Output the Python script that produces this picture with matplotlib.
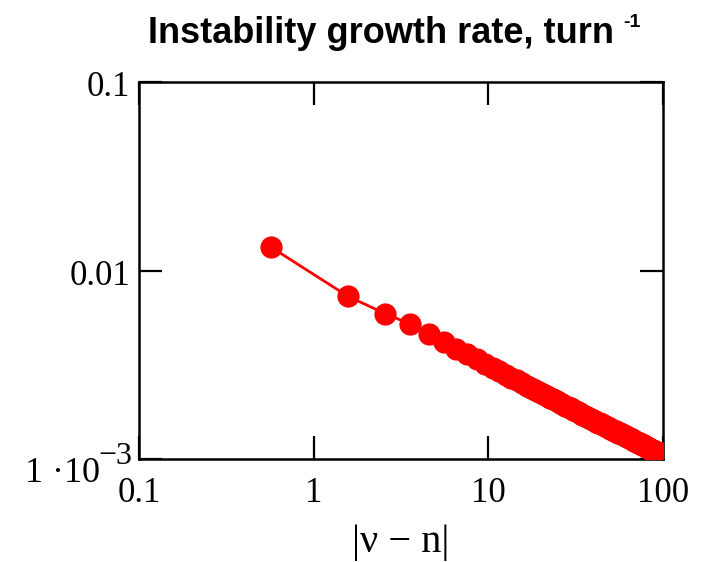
import numpy as np
import matplotlib
matplotlib.use("Agg")
import matplotlib.pyplot as plt
from matplotlib.ticker import FixedLocator, NullLocator, FixedFormatter, NullFormatter
from matplotlib.transforms import ScaledTranslation

# |nu - n| for each harmonic
detune = [0.57, 1.57, 2.57, 3.57, 4.57, 5.57, 6.57, 7.57, 8.57, 9.57,
          10.57, 11.57, 12.57, 13.57, 14.57, 15.57, 16.57, 17.57, 18.57, 19.57,
          20.57, 21.57, 22.57, 23.57, 24.57, 25.57, 26.57, 27.57, 28.57, 29.57,
          30.57, 31.57, 32.57, 33.57, 34.57, 35.57, 36.57, 37.57, 38.57, 39.57,
          40.57, 41.57, 42.57, 43.57, 44.57, 45.57, 46.57, 47.57, 48.57, 49.57,
          50.57, 51.57, 52.57, 53.57, 54.57, 55.57, 56.57, 57.57, 58.57, 59.57,
          60.57, 61.57, 62.57, 63.57, 64.57, 65.57, 66.57, 67.57, 68.57, 69.57,
          70.57, 71.57, 72.57, 73.57, 74.57, 75.57, 76.57, 77.57, 78.57, 79.57,
          80.57, 81.57, 82.57, 83.57, 84.57, 85.57, 86.57, 87.57, 88.57, 89.57,
          90.57, 91.57, 92.57, 93.57, 94.57, 95.57, 96.57, 97.57, 98.57, 99.57]

# growth rate, in units of 1e-3 per turn
rate_e3 = [13.3, 7.30, 5.90, 5.20, 4.60, 4.17, 3.85, 3.59, 3.38, 3.20,
           3.05, 2.92, 2.80, 2.70, 2.61, 2.52, 2.45, 2.38, 2.32, 2.26,
           2.21, 2.16, 2.11, 2.07, 2.03, 1.99, 1.95, 1.92, 1.89, 1.86,
           1.83, 1.80, 1.77, 1.75, 1.72, 1.70, 1.68, 1.66, 1.64, 1.62,
           1.60, 1.58, 1.56, 1.55, 1.53, 1.51, 1.50, 1.48, 1.47, 1.45,
           1.44, 1.43, 1.41, 1.40, 1.39, 1.38, 1.37, 1.36, 1.35, 1.34,
           1.33, 1.32, 1.31, 1.30, 1.29, 1.28, 1.27, 1.26, 1.25, 1.24,
           1.23, 1.22, 1.21, 1.21, 1.20, 1.19, 1.18, 1.18, 1.17, 1.16,
           1.16, 1.15, 1.14, 1.14, 1.13, 1.12, 1.12, 1.11, 1.10, 1.10,
           1.09, 1.09, 1.08, 1.08, 1.07, 1.07, 1.06, 1.06, 1.05, 1.05]
rate = np.array(rate_e3) * 1e-3

xticks = [0.1, 1, 10, 100]
xticklabels = ['0.1', '1', '10', '100']
yticks = [1e-3, 0.01, 0.1]
yticklabels = ['1 \u00b710', '0.01', '0.1']

fig = plt.figure(figsize=(7.11, 5.62), dpi=100)
ax = fig.add_axes([139/711, 1 - 459/562, (663 - 139)/711, (459 - 82)/562])

ax.plot(detune, rate, color='#ff0000', lw=2, marker='o', ms=16,
        markeredgewidth=0, zorder=3)

ax.set_xscale('log')
ax.set_yscale('log')
ax.set_xlim(0.1, 100)
ax.set_ylim(1e-3, 0.1)

ax.xaxis.set_major_locator(FixedLocator(xticks))
ax.xaxis.set_major_formatter(FixedFormatter(xticklabels))
ax.yaxis.set_major_locator(FixedLocator(yticks))
ax.yaxis.set_major_formatter(NullFormatter())
ax.xaxis.set_minor_locator(NullLocator())
ax.yaxis.set_minor_locator(NullLocator())

ax.tick_params(which='major', direction='in', length=16.5, width=1.6,
               top=True, right=True, labelsize=25, colors='black')
ax.tick_params(axis='x', pad=13)
for lbl in ax.get_xticklabels():
    lbl.set_fontfamily('Liberation Serif')
for sp in ax.spines.values():
    sp.set_linewidth(1.8)


def px(dx, dy):
    return ScaledTranslation(dx / 100, dy / 100, fig.dpi_scale_trans)


# y tick labels sit a little below their ticks, as in the original
ytrans = ax.get_yaxis_transform()
for val, txt in zip(yticks, yticklabels):
    if val == 1e-3:
        ax.text(0, val, txt, transform=ytrans + px(-39, -14),
                ha='right', va='center', fontsize=26, fontfamily='Liberation Serif')
        ax.text(0, val, '\u22123', transform=ytrans + px(-41, 2),
                ha='left', va='center', fontsize=23, fontfamily='Liberation Serif')
    else:
        ax.text(0, val, txt, transform=ytrans + px(-9, -6),
                ha='right', va='center', fontsize=25, fontfamily='Liberation Serif')

ax.set_xlabel('|\u03bd \u2212 n|', fontfamily='Liberation Serif', fontsize=29,
              labelpad=10)

title = fig.text(148/711, 1 - 43/562, 'Instability growth rate, turn',
                 fontfamily='Liberation Sans', fontweight='bold', fontsize=26,
                 ha='left', va='baseline')
fig.canvas.draw()
bb = title.get_window_extent()
fig.text((bb.x1 + 9) / fig.bbox.width, 1 - 27/562, '-1',
         fontfamily='Liberation Sans', fontweight='bold', fontsize=14,
         ha='left', va='baseline')

fig.savefig('out.png', dpi=100)
